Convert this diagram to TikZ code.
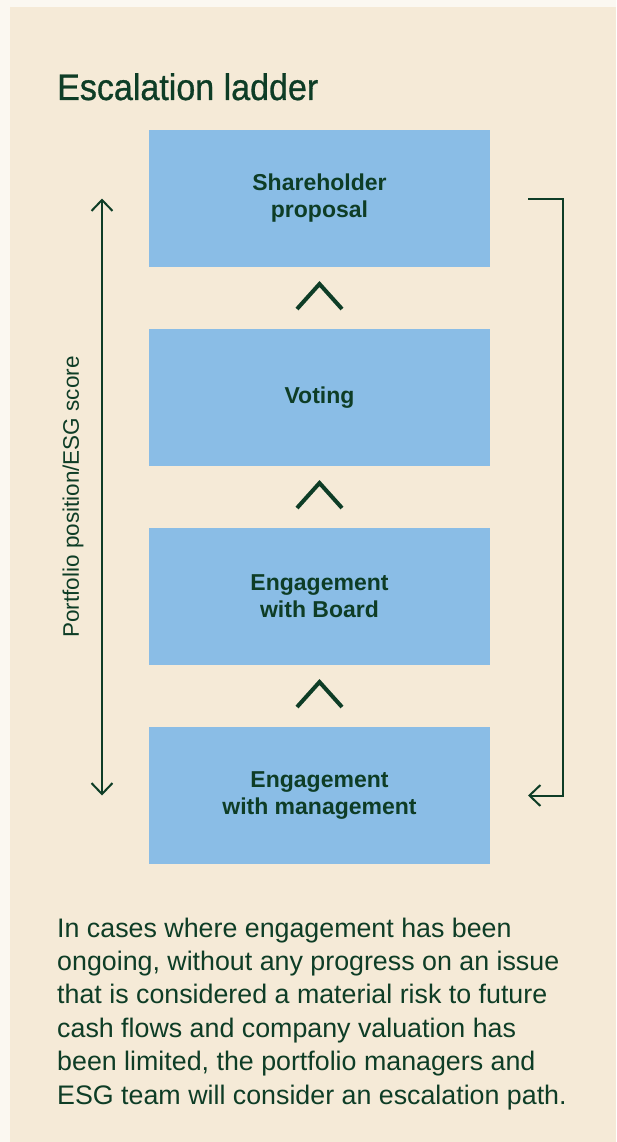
\documentclass[tikz,border=0pt]{standalone}
\usepackage{fontspec}
\setmainfont{Liberation Sans}
\newfontfamily\titlefont[FakeBold=0.8, FakeStretch=0.92]{Liberation Sans}
\usetikzlibrary{arrows.meta,calc}
\definecolor{outerbg}{HTML}{FBF8F1}
\definecolor{panel}{HTML}{F5EAD7}
\definecolor{boxblue}{HTML}{8ABDE6}
\definecolor{ink}{HTML}{0E3D26}
\begin{document}
\begin{tikzpicture}[x=1pt,y=-1pt,
  ladderbox/.style={fill=boxblue, draw=none, minimum width=341pt, minimum height=137pt,
    align=center, text=ink, inner sep=0pt,
    font=\fontsize{23}{27}\selectfont\bfseries},
  chevron/.style={draw=ink, line width=4pt, line cap=butt, line join=miter},
  axisline/.style={draw=ink, line width=2pt, line join=miter}
]
\useasboundingbox (0,0) rectangle (616,1142);
\fill[outerbg] (0,0) rectangle (616,1142);
\fill[panel] (10,7) rectangle (616,1142);

\node[anchor=base west, text=ink, inner sep=0pt, font=\titlefont\fontsize{37}{42}\selectfont] (title) at (57,100) {Escalation ladder};

\node[ladderbox] (b1) at (319.5,198.5) {Shareholder\\proposal};
\node[ladderbox] (b2) at (319.5,397.5) {Voting};
\node[ladderbox] (b3) at (319.5,596.5) {Engagement\\with Board};
\node[ladderbox] (b4) at (319.5,795.5) {Engagement\\with management};

% chevrons between boxes
\foreach \lo/\hi in {b2/b1, b3/b2, b4/b3}{
  \coordinate (m) at ($(\lo.north)!0.5!(\hi.south)$);
  \draw[chevron] ($(m)+(-22.5,11)$) -- ($(m)+(0,-14)$) -- ($(m)+(22.5,11)$);
}

% left double arrow
\coordinate (lx) at (102,0);
\draw[axisline, {Straight Barb[length=11pt, width=21pt]}-{Straight Barb[length=11pt, width=21pt]}] (lx |- b1.center) -- (lx |- b4.center);
\coordinate (mid) at ($(b1.center)!0.5!(b4.center)$);
\coordinate (labx) at (73,0);
\node[rotate=90, text=ink, inner sep=0pt, font=\fontsize{22.5}{27}\selectfont] (axislabel) at (labx |- mid) {Portfolio position/ESG score};

% right return bracket
\coordinate (ra) at (528,0);
\coordinate (rb) at (563,0);
\draw[axisline, -{Straight Barb[length=11pt, width=21pt]}] (ra |- b1.center) -| (rb |- b4.center) -- (ra |- b4.center);

\node[anchor=north west, text=ink, inner sep=0pt, align=left, font=\fontsize{26.8}{33.4}\selectfont] (body) at (57,917.5)
{In cases where engagement has been\\
ongoing, without any progress on an issue\\
that is considered a material risk to future\\
cash flows and company valuation has\\
been limited, the portfolio managers and\\
ESG team will consider an escalation path.};
\end{tikzpicture}
\end{document}
